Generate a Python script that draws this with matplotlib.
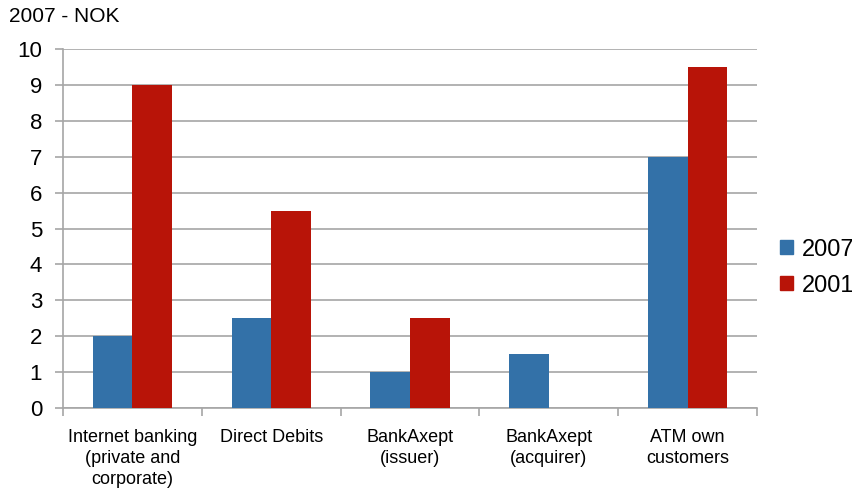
import numpy as np
import matplotlib.pyplot as plt
from matplotlib.patches import Patch

plt.rcParams['font.family'] = ['Liberation Sans', 'DejaVu Sans']

categories = ['Internet banking\n(private and\ncorporate)', 'Direct Debits',
              'BankAxept\n(issuer)', 'BankAxept\n(acquirer)', 'ATM own\ncustomers']
values_2007 = [2, 2.5, 1, 1.5, 7]
values_2001 = [9, 5.5, 2.5, np.nan, 9.5]
series_names = ['2007', '2001']
colors = ['#3371A8', '#B81408']
grid_color = '#A6A6A6'

fig = plt.figure(figsize=(8.53, 4.92), dpi=100)
ax = fig.add_axes([0.0739, 0.1707, 0.8136, 0.7297])

x = np.arange(len(categories))
w = 0.285
ax.bar(x - w / 2, values_2007, width=w, color=colors[0], zorder=3)
ax.bar(x + w / 2, values_2001, width=w, color=colors[1], zorder=3)

ax.set_xlim(-0.5, len(categories) - 0.5)
ax.set_ylim(0, 10)
ax.set_yticks(range(0, 11))
ax.yaxis.grid(True, color=grid_color, linewidth=1.2, zorder=0)
ax.set_axisbelow(True)

ax.set_xticks(x)
ax.set_xticklabels(categories, fontsize=13, linespacing=1.3)
ax.tick_params(axis='x', length=0, pad=15)
ax.set_xticks(np.arange(-0.5, len(categories)), minor=True)
ax.tick_params(axis='x', which='minor', length=6, color=grid_color, width=1.2)
ax.tick_params(axis='y', labelsize=16, length=6, color=grid_color, width=1.2, pad=9)

for s in ['top', 'right']:
    ax.spines[s].set_visible(False)
for s in ['left', 'bottom']:
    ax.spines[s].set_color(grid_color)
    ax.spines[s].set_linewidth(1.2)

fig.text(0.011, 0.985, '2007 - NOK', fontsize=15, va='top', ha='left')

handles = [Patch(color=c) for c in colors]
fig.legend(handles, series_names, loc='center left', bbox_to_anchor=(0.914, 0.456),
           frameon=False, fontsize=17, handlelength=0.55, handleheight=0.55,
           handletextpad=0.4, labelspacing=0.6, borderpad=0, borderaxespad=0)

fig.savefig('out.png', dpi=100)
